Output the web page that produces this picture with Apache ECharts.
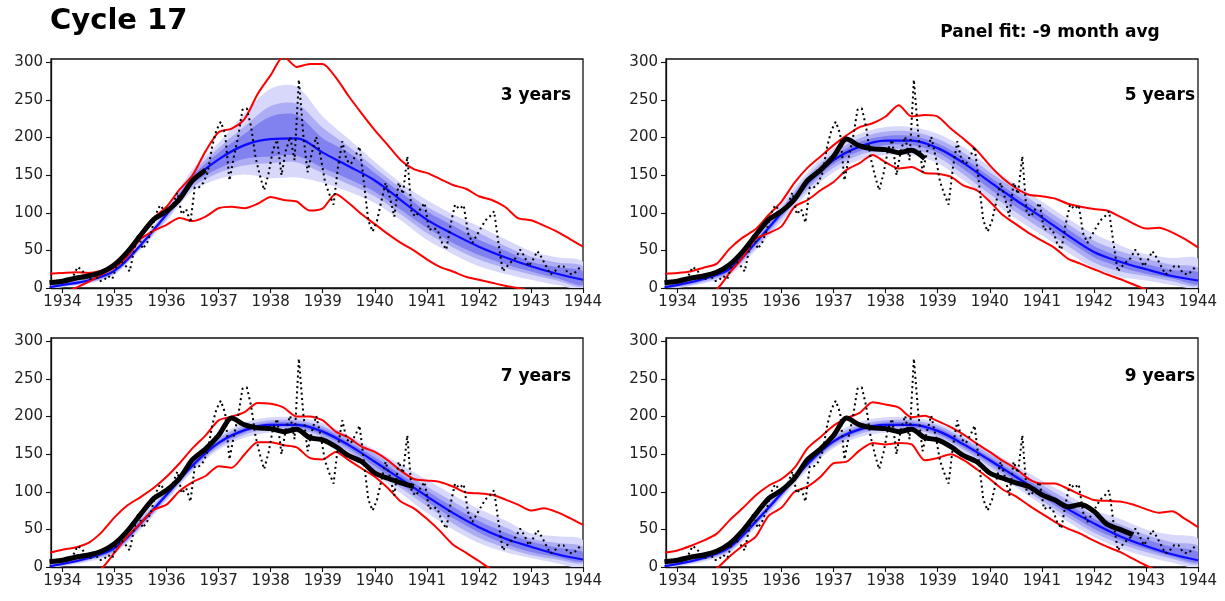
<!DOCTYPE html>
<html>
<head>
<meta charset="utf-8">
<title>Cycle 17</title>
<script src="https://cdn.jsdelivr.net/npm/echarts@6/dist/echarts.min.js"></script>
<style>
  html, body { margin: 0; padding: 0; background: #ffffff; }
  #chart { width: 1225px; height: 601px; }
</style>
</head>
<body>
<div id="chart"></div>
<script>
// ---------------------------------------------------------------
// Monthly sunspot number, Oct 1933 .. Dec 1943 (dotted black line)
// ---------------------------------------------------------------
const monthlyFirstYear = 1933;
const monthlyFirstMonth = 10;
const monthlySSN = [
  6, 10, 8,
  6, 12, 16, 28, 24, 15, 12, 18, 9, 10, 16, 12,
  30, 36, 30, 22, 50, 72, 52, 60, 75, 98, 110, 103,
  103, 112, 127, 98, 105, 87, 134, 134, 140, 154, 188, 210,
  221, 205, 143, 174, 201, 237, 239, 214, 174, 150, 130, 152,
  183, 197, 150, 183, 201, 170, 277, 205, 154, 180, 201, 175,
  142, 125, 111, 160, 195, 170, 165, 175, 188, 140, 90, 75,
  89, 115, 140, 120, 95, 140, 125, 175, 100, 95, 105, 113,
  77, 80, 77, 60, 51, 85, 111, 105, 110, 73, 60, 70,
  80, 90, 95, 102, 60, 22, 29, 35, 40, 51, 42, 29,
  38, 49, 40, 29, 18, 22, 29, 29, 20, 18, 22, 29
];

// Smoothed sunspot number on a quarter-year grid from 1933.75 (thick black line)
const smoothStart = 1933.75;
const smoothSSN = [
  7, 9, 13, 16, 21, 31, 48, 70, 91, 102, 118, 143, 157,
  175, 198, 189, 185, 184, 180, 183, 172, 169, 160, 148, 140,
  125, 118, 112, 107, 96, 89, 80, 83, 74, 57, 50, 43
];

// Length of the observed stretch used for each panel's fit
const fitYears = [3, 5, 7, 9];
const fitLabels = ['3 years', '5 years', '7 years', '9 years'];

// Fit times (years) for the blue curve and its bands
const fitT = [1933.75, 1934.0, 1934.5, 1935.0, 1935.5, 1936.0, 1936.5, 1937.0, 1937.5,
  1938.0, 1938.5, 1939.0, 1939.5, 1940.0, 1940.5, 1941.0, 1941.5, 1942.0,
  1942.5, 1943.0, 1943.5, 1944.0];

// Rows: [outerLo, midLo, innerLo, median, innerHi, midHi, outerHi]
const bands3 = [
  [0,0,0,1,2,3,4], [1,2,3,4,6,7,8], [6,7,8,10,12,13,14], [18,19,21,23,25,27,28],
  [51,53,55,57,59,61,63], [89,92,95,98,101,103,106], [129,134,138,143,149,153,158],
  [145,153,159,171,180,186,193], [151,163,172,190,205,215,232], [146,166,175,198,228,242,265],
  [147,167,176,199,230,245,268], [140,153,160,180,199,213,228], [128,138,145,162,180,188,198],
  [113,122,128,143,153,160,168], [90,98,104,117,127,133,140], [64,73,80,91,102,108,117],
  [45,54,60,72,83,90,98], [29,38,44,55,64,73,82], [19,27,32,41,50,56,65],
  [11,18,22,29,35,42,49], [4,10,13,19,28,34,41], [0,2,4,11,22,29,35]
];
const bands5 = [
  [0,0,0,1,2,3,4], [0,1,2,4,6,7,9], [6,8,10,12,14,16,18], [17,20,22,25,28,30,33],
  [50,54,57,60,63,66,70], [88,93,96,100,104,107,112], [126,131,135,140,145,149,154],
  [154,160,165,170,175,180,186], [170,177,182,188,194,199,205], [177,184,190,196,202,208,214],
  [177,184,190,196,202,208,214], [166,174,180,186,192,198,205], [143,151,158,166,173,180,187],
  [117,125,132,141,148,154,161], [92,101,108,117,124,131,138], [70,78,86,94,101,108,115],
  [47,56,63,70,78,85,92], [27,34,41,48,56,63,72], [15,22,28,35,42,49,57],
  [10,16,19,25,32,39,45], [4,9,13,16,24,31,40], [1,3,5,10,21,27,39]
];
const bands7 = [
  [0,0,0,1,2,3,4], [1,2,3,4,6,7,8], [7,9,10,12,14,15,17], [18,20,22,25,28,30,32],
  [50,53,55,58,61,63,66], [88,91,93,96,99,101,104], [127,130,132,135,138,140,143],
  [156,159,162,165,168,171,174], [172,176,179,182,185,188,192], [179,183,186,189,192,195,199],
  [179,183,186,189,192,195,199], [169,173,176,180,184,187,191], [149,154,158,162,166,170,175],
  [124,129,134,140,146,151,156], [98,105,110,117,123,129,136], [72,81,87,94,101,107,116],
  [50,58,65,72,80,87,96], [32,39,46,53,61,68,77], [20,26,31,38,46,53,62],
  [12,16,20,27,34,38,45], [5,10,13,17,26,32,41], [0,5,7,10,20,27,36]
];
const bands9 = [
  [0,0,0,1,2,3,4], [1,2,3,4,6,7,8], [7,9,10,12,14,15,17], [19,21,23,26,29,31,33],
  [52,55,57,60,63,65,68], [90,93,95,98,101,103,106], [129,132,134,137,140,142,145],
  [158,161,164,167,170,173,176], [173,177,180,183,186,189,193], [179,183,186,189,192,195,199],
  [179,183,186,189,192,195,199], [171,174,177,181,185,188,191], [152,156,159,163,167,171,175],
  [130,134,138,142,146,150,155], [106,111,115,120,125,129,135], [83,88,93,98,104,109,115],
  [60,66,71,77,83,89,96], [40,46,51,58,64,69,76], [25,31,36,41,50,57,64],
  [14,20,24,28,37,43,50], [6,11,14,17,27,33,43], [0,4,6,9,20,28,38]
];

// Red envelope on a quarter-year grid from 1933.75 to 1944.0
const envStart = 1933.75;
const redHi3 = [19,20,21,20,23,28,45,72,93,108,131,150,182,207,212,225,258,283,308,294,298,298,280,255,232,210,190,170,158,153,145,137,132,122,117,108,93,90,83,75,65,55];
const redLo3 = [-12,-8,0,8,18,27,42,65,76,84,93,89,95,106,108,106,112,121,117,115,103,106,125,113,98,85,72,60,50,38,28,22,15,11,7,3,0,-4,-6,-8,-10,-12];
const redHi5 = [19,20,22,27,32,52,67,78,97,115,140,160,175,190,203,214,219,228,243,228,230,228,212,198,183,163,146,133,124,122,119,112,108,105,103,95,86,79,80,74,65,54];
const redLo5 = [-25,-20,-14,-8,-2,20,40,65,73,82,108,117,130,141,157,166,177,167,159,161,153,152,148,136,130,115,97,85,73,63,53,39,32,25,18,12,5,-2,-8,-14,-20,-26];
const redHi7 = [19,23,26,32,46,66,82,93,105,120,138,158,175,195,200,206,218,217,212,200,200,195,180,172,160,153,142,128,117,115,113,107,99,98,96,90,83,75,78,73,65,56];
const redLo7 = [-30,-24,-18,-10,-2,19,41,58,76,83,101,113,121,134,132,150,166,166,162,159,145,143,153,142,131,120,105,87,78,64,48,30,19,8,-4,-14,-22,-30,-36,-42,-48,-54];
const redHi9 = [19,22,28,35,44,62,78,95,108,117,132,158,173,188,198,205,219,216,212,199,201,194,186,176,164,153,141,131,117,111,111,104,96,89,88,87,83,77,72,74,64,53];
const redLo9 = [-30,-24,-18,-10,-2,14,28,40,68,79,100,107,120,138,140,155,165,163,165,163,142,145,150,142,130,117,103,94,82,71,60,51,44,35,27,20,11,2,-6,-12,-18,-24];

// Axis ticks
const xTicks = [1934, 1935, 1936, 1937, 1938, 1939, 1940, 1941, 1942, 1943, 1944];
const yTicks = [0, 50, 100, 150, 200, 250, 300];

const title = 'Cycle 17';
const subtitle = 'Panel fit: -9 month avg';

// ---------------------------------------------------------------
const panelBands = [bands3, bands5, bands7, bands9];
const panelRedHi = [redHi3, redHi5, redHi7, redHi9];
const panelRedLo = [redLo3, redLo5, redLo7, redLo9];

const FONT = 'DejaVu Sans';
// band fills, outermost to innermost: [lower column, upper column, colour]
const bandLevels = [[0, 6, '#d8d8fb'], [1, 5, '#adadf5'], [2, 4, '#8181ef']];

const grids = [
  { left: 51, top: 59, width: 532, height: 229 },
  { left: 666, top: 59, width: 532, height: 229 },
  { left: 51, top: 338, width: 532, height: 229 },
  { left: 666, top: 338, width: 532, height: 229 }
];
const labelPos = [[571, 96], [1195, 96], [571, 377], [1195, 377]];

const monthlyPts = monthlySSN.map((v, i) => {
  const m = monthlyFirstMonth - 1 + i;
  return [monthlyFirstYear + (m + 0.5) / 12, v];
});
const smoothPts = smoothSSN.map((v, i) => [smoothStart + i * 0.25, v]);
const envT = panelRedHi[0].map((_, i) => envStart + i * 0.25);

const xAxes = [], yAxes = [], series = [], graphics = [];
const plain = v => String(v);

grids.forEach((g, p) => {
  Object.assign(g, { show: true, borderColor: '#111', borderWidth: 1.3, backgroundColor: 'transparent' });
  xAxes.push({
    type: 'value', gridIndex: p, min: 1933.78, max: 1944,
    axisLine: { show: true, onZero: false, lineStyle: { color: '#111', width: 1.3 } },
    axisTick: { show: true, length: 5, lineStyle: { color: '#111', width: 1.1 }, customValues: xTicks },
    axisLabel: { customValues: xTicks, formatter: plain, margin: 7, fontFamily: FONT, fontSize: 15, color: '#222' },
    splitLine: { show: false }
  });
  yAxes.push({
    type: 'value', gridIndex: p, min: 0, max: 304.5,
    axisLine: { show: true, lineStyle: { color: '#111', width: 1.3 } },
    axisTick: { show: true, length: 5, lineStyle: { color: '#111', width: 1.1 }, customValues: yTicks },
    axisLabel: { customValues: yTicks, formatter: plain, margin: 8, fontFamily: FONT, fontSize: 15, color: '#222' },
    splitLine: { show: false }
  });

  const rows = panelBands[p];
  // uncertainty bands: one closed polygon per level, upper edge forward, lower edge back
  bandLevels.forEach(([lo, hi, color], lvl) => {
    series.push({
      type: 'custom', xAxisIndex: p, yAxisIndex: p, clip: true, silent: true, z: 1 + lvl * 0.01,
      data: [[fitT[0], rows[0][lo]]],
      renderItem: (params, api) => {
        const upper = fitT.map((t, i) => api.coord([t, rows[i][hi]]));
        const lower = fitT.map((t, i) => api.coord([t, rows[i][lo]])).reverse();
        return {
          type: 'polygon',
          shape: { points: upper.concat(lower), smooth: 0.3 },
          style: { fill: color, stroke: null }
        };
      }
    });
  });
  series.push({
    type: 'line', xAxisIndex: p, yAxisIndex: p,
    data: fitT.map((t, i) => [t, rows[i][3]]),
    symbol: 'none', smooth: 0.35, silent: true, z: 3,
    lineStyle: { color: '#0a0aff', width: 2.2 }
  });
  [panelRedHi[p], panelRedLo[p]].forEach(arr => {
    series.push({
      type: 'line', xAxisIndex: p, yAxisIndex: p,
      data: envT.map((t, i) => [t, arr[i]]),
      symbol: 'none', smooth: 0.25, silent: true, z: 4,
      lineStyle: { color: '#ff0000', width: 2 }
    });
  });
  series.push({
    type: 'line', xAxisIndex: p, yAxisIndex: p, data: monthlyPts,
    symbol: 'none', silent: true, z: 5,
    lineStyle: { color: '#000000', width: 2, type: [2, 3.3], cap: 'butt' }
  });
  const endT = smoothStart + fitYears[p];
  series.push({
    type: 'line', xAxisIndex: p, yAxisIndex: p,
    data: smoothPts.filter(d => d[0] <= endT + 1e-6),
    symbol: 'none', smooth: 0.25, silent: true, z: 6,
    lineStyle: { color: '#000000', width: 5, cap: 'butt', join: 'round' }
  });

  graphics.push({
    type: 'text', x: labelPos[p][0], y: labelPos[p][1], z: 100,
    style: { text: fitLabels[p], fontFamily: FONT, fontWeight: 'bold', fontSize: 17,
             fill: '#000', align: 'right', verticalAlign: 'middle' }
  });
});

graphics.push({
  type: 'text', x: 50, y: 21, z: 100,
  style: { text: title, fontFamily: FONT, fontWeight: 'bold', fontSize: 29,
           fill: '#000', align: 'left', verticalAlign: 'middle' }
});
graphics.push({
  type: 'text', x: 1050, y: 33, z: 100,
  style: { text: subtitle, fontFamily: FONT, fontWeight: 'bold', fontSize: 17,
           fill: '#000', align: 'center', verticalAlign: 'middle' }
});

const chart = echarts.init(document.getElementById('chart'), null, { renderer: 'canvas' });
chart.setOption({
  animation: false,
  backgroundColor: '#ffffff',
  grid: grids,
  xAxis: xAxes,
  yAxis: yAxes,
  series: series,
  graphic: graphics
});
</script>
</body>
</html>
